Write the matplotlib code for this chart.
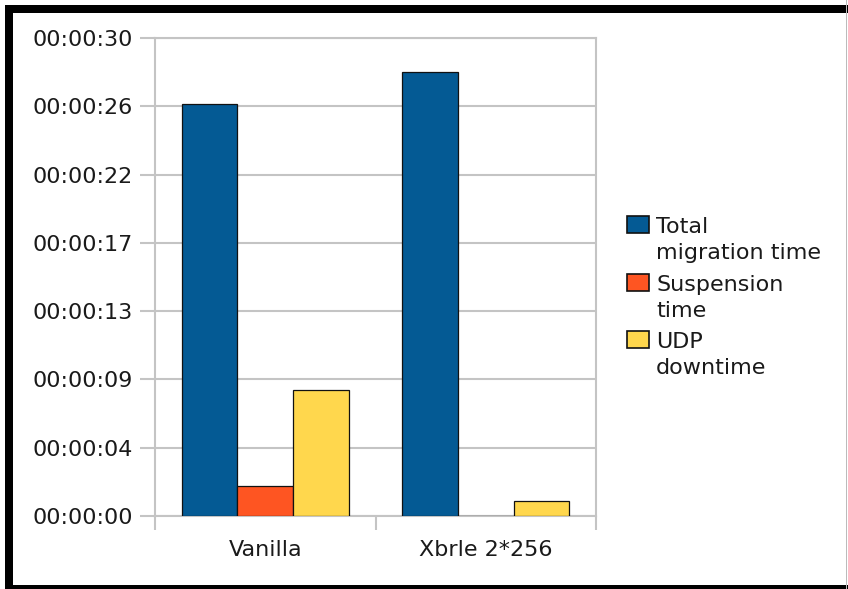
import matplotlib
matplotlib.use("Agg")
import matplotlib.pyplot as plt
from matplotlib.patches import Rectangle
import numpy as np

# migration measurements, seconds
categories = ["Vanilla", "Xbrle 2*256"]
total_migration = [26.06, 28.08]
suspension = [1.90, 0.0]
udp_downtime = [7.95, 0.95]
series_names = ["Total\nmigration time", "Suspension\ntime", "UDP\ndowntime"]
series_colors = ["#045a94", "#fe5522", "#ffd74d"]

# axis steps in 0.00005-day increments (4.32 s), like a spreadsheet time axis
tick_step = 4.32
n_ticks = 8

W, H, DPI = 848, 589, 100
fig = plt.figure(figsize=(W / DPI, H / DPI), dpi=DPI, facecolor="white")
plt.rcParams["font.family"] = ["DejaVu Sans"]
grid_c = "#c4c4c4"
text_c = "#1a1a1a"

ax = fig.add_axes([155 / W, (H - 516) / H, 441 / W, 478 / H])
x = np.arange(len(categories))
bw = 0.252
for i, vals in enumerate([total_migration, suspension, udp_downtime]):
    ax.bar(x + (i - 1) * bw, vals, bw, color=series_colors[i], edgecolor="#111111",
           linewidth=0.9, zorder=3)

yt = np.arange(n_ticks) * tick_step
ax.set_ylim(0, yt[-1])
ax.set_yticks(yt)
ax.set_yticklabels([f"00:00:{int(round(v)):02d}" for v in yt], fontsize=16, color=text_c)
ax.yaxis.grid(True, color=grid_c, linewidth=1.5, zorder=0)
ax.tick_params(axis="y", length=11, width=1.5, color=grid_c, pad=5)

ax.set_xlim(-0.5, len(categories) - 0.5)
ax.set_xticks(np.arange(len(categories) + 1) - 0.5)
ax.set_xticklabels([])
ax.set_xticks(x, minor=True)
ax.set_xticklabels(categories, minor=True, fontsize=16, color=text_c)
ax.tick_params(axis="x", which="major", length=10, width=1.5, color=grid_c)
ax.tick_params(axis="x", which="minor", length=0, pad=17)
for s in ax.spines.values():
    s.set_color(grid_c)
    s.set_linewidth(1.5)

# legend with handle aligned to the first line of each label
def px(xp, yp):
    return xp / W, 1 - yp / H

baselines = [233.3, 290.8, 348.3]
for name, col, b in zip(series_names, series_colors, baselines):
    x0, y0 = px(627, b)
    fig.add_artist(Rectangle((x0, y0), 22 / W, 17 / H, transform=fig.transFigure,
                             facecolor=col, edgecolor="#111111", linewidth=1.2))
    for k, line in enumerate(name.split("\n")):
        tx, ty = px(656, b + 26 * k)
        fig.text(tx, ty, line, fontsize=16, va="baseline", ha="left", color=text_c)

# black frame on top, left and bottom; thin grey edge on the right
frame = [(5, 4.7, 843, 8), (5, 4.7, 7.7, 585), (5, 585, 843, 4)]
for fx, fy, fw, fh in frame:
    x0, y0 = px(fx, fy + fh)
    fig.add_artist(Rectangle((x0, y0), fw / W, fh / H, transform=fig.transFigure,
                             facecolor="black", edgecolor="none"))
fig.add_artist(Rectangle((846 / W, 0), 1.2 / W, 1, transform=fig.transFigure,
                         facecolor="#bbbbbb", edgecolor="none"))

fig.savefig("out.png", dpi=DPI, facecolor="white")
